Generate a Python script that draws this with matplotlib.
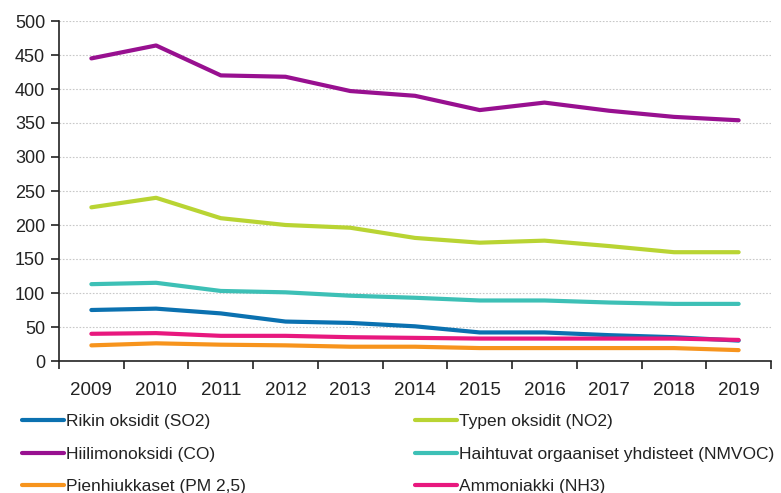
import matplotlib
matplotlib.use("Agg")
import matplotlib.pyplot as plt
import numpy as np

plt.rcParams['font.family'] = ['Liberation Sans', 'DejaVu Sans']

years = ['2009', '2010', '2011', '2012', '2013', '2014', '2015', '2016', '2017', '2018', '2019']
so2 = [75, 77, 70, 58, 56, 51, 42, 42, 38, 35, 30]
no2 = [226, 240, 210, 200, 196, 181, 174, 177, 169, 160, 160]
co = [445, 464, 420, 418, 397, 390, 369, 380, 368, 359, 354]
nmvoc = [113, 115, 103, 101, 96, 93, 89, 89, 86, 84, 84]
pm25 = [23, 26, 24, 23, 21, 21, 19, 19, 19, 19, 16]
nh3 = [40, 41, 37, 37, 35, 34, 33, 33, 33, 33, 31]

labels = ['Rikin oksidit (SO2)', 'Typen oksidit (NO2)', 'Hiilimonoksidi (CO)',
          'Haihtuvat orgaaniset yhdisteet (NMVOC)', 'Pienhiukkaset (PM 2,5)', 'Ammoniakki (NH3)']
colors = ['#0b71b0', '#b9d433', '#981090', '#3dc0b6', '#f7941d', '#e8187e']

W, H = 781, 493
fig = plt.figure(figsize=(W / 100, H / 100), dpi=100)
ax = fig.add_axes([59 / W, 1 - 361 / H, (771 - 59) / W, (361 - 21) / H])

x = np.arange(len(years))
series = [so2, no2, co, nmvoc, pm25, nh3]
lines = []
for s, c, l in zip(series, colors, labels):
    ln, = ax.plot(x, s, color=c, lw=3.0, label=l, solid_capstyle='round', solid_joinstyle='round')
    lines.append(ln)

ax.set_xlim(-0.5, len(years) - 0.5)
ax.set_ylim(0, 500)
ax.set_yticks(np.arange(0, 501, 50))
ax.yaxis.grid(True, color='#c8c8c8', linestyle=(0, (1.5, 1.5)), lw=0.8)
ax.set_axisbelow(True)

ax.set_xticks(x)
ax.set_xticklabels(years)
ax.set_xticks(np.arange(-0.5, len(years) + 0.5, 1), minor=True)
ax.tick_params(axis='x', which='major', length=0, pad=15, labelsize=13.5, colors='#222222')
ax.tick_params(axis='x', which='minor', length=6, width=1.2, color='#222222')
ax.tick_params(axis='y', length=6, width=1.2, pad=4, labelsize=13, color='#222222', labelcolor='#222222')

for sp in ['top', 'right']:
    ax.spines[sp].set_visible(False)
for sp in ['left', 'bottom']:
    ax.spines[sp].set_linewidth(1.2)
    ax.spines[sp].set_color('#222222')

kw = dict(frameon=False, fontsize=12.5, handlelength=2.4, handletextpad=0.12,
          labelspacing=1.0, borderpad=0, borderaxespad=0, loc='upper left',
          bbox_transform=fig.transFigure)
top = 1 - 414 / H
leg1 = fig.legend([lines[0], lines[2], lines[4]], [labels[0], labels[2], labels[4]],
                  bbox_to_anchor=(22 / W, top), **kw)
leg2 = fig.legend([lines[1], lines[3], lines[5]], [labels[1], labels[3], labels[5]],
                  bbox_to_anchor=(415 / W, top), **kw)
for leg in (leg1, leg2):
    for t in leg.get_texts():
        t.set_color('#222222')

fig.savefig('out.png', dpi=100)
